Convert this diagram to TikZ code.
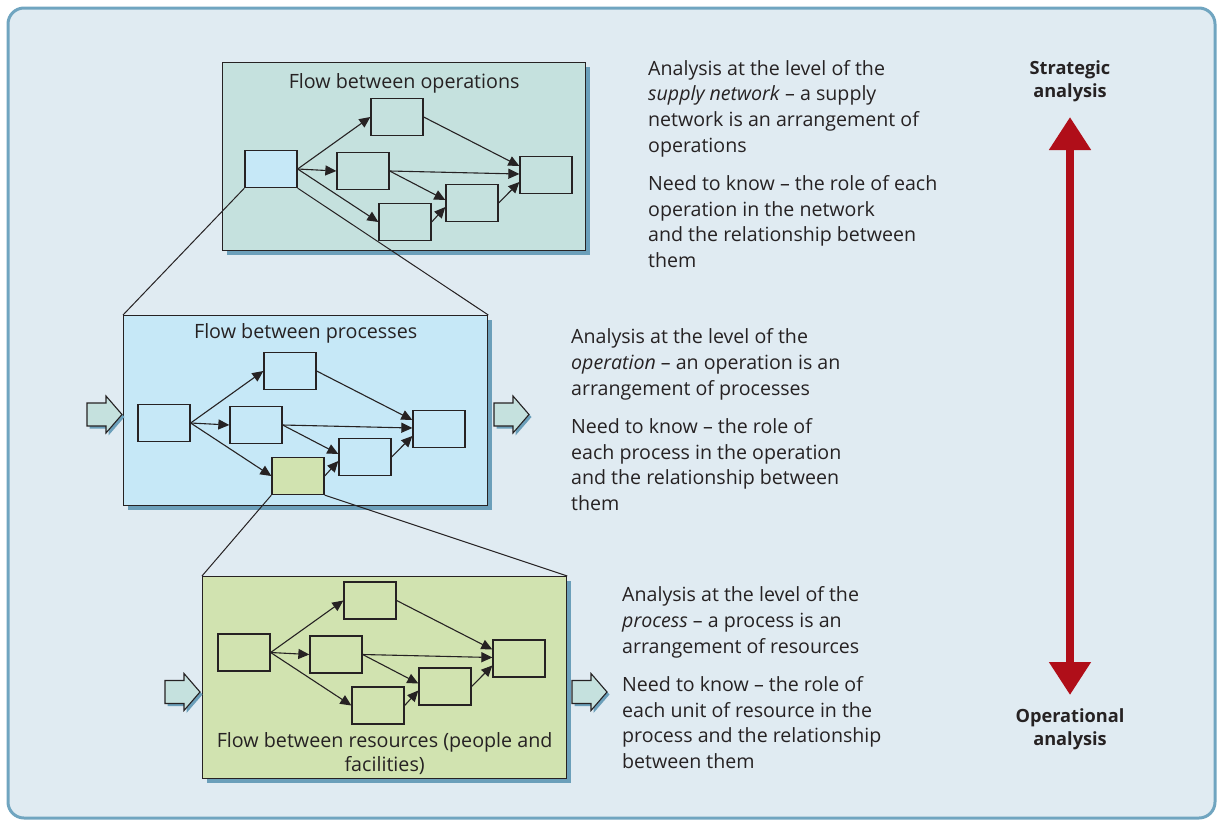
\documentclass[tikz,border=0pt]{standalone}
\usepackage{fontspec}
\setmainfont{Open Sans}
\usetikzlibrary{arrows.meta,shadows}

\definecolor{framefill}{HTML}{E0EBF2}
\definecolor{framedraw}{HTML}{70A5C0}
\definecolor{opsfill}{HTML}{C5E1DE}
\definecolor{procfill}{HTML}{C6E8F7}
\definecolor{resfill}{HTML}{D1E3B0}
\definecolor{shadowblue}{HTML}{6B9FBA}
\definecolor{ink}{HTML}{262223}
\definecolor{strategyred}{HTML}{B00E19}

\tikzset{
  unit/.style={draw=ink, line width=1.3pt, minimum width=52pt, minimum height=37pt, inner sep=0pt},
  flow/.style={-{Triangle[length=11pt,width=10pt]}, draw=ink, line width=1.1pt},
  panel/.style={draw=ink, line width=1.3pt, anchor=north west, inner sep=0pt,
    general shadow={fill=shadowblue, shadow xshift=4pt, shadow yshift=-4pt}},
  zoomline/.style={draw=ink, line width=1pt},
  blockarrow/.pic={
    \draw[ink, fill=opsfill, line width=1.1pt, line join=miter,
      general shadow={fill=shadowblue, shadow xshift=2.5pt, shadow yshift=-2.5pt}]
      (0,-11.5) -- (19,-11.5) -- (19,-18.5) -- (35,0) -- (19,18.5) -- (19,11.5) -- (0,11.5) -- cycle;
  },
  paneltitle/.style={font=\fontsize{19.7}{24}\selectfont, text=ink, inner sep=0pt, align=center, anchor=base},
  note/.style={font=\fontsize{19.6}{25.7}\selectfont, text=ink, inner sep=0pt, align=left, anchor=base west},
  level/.style={font=\fontsize{18.2}{23}\selectfont\bfseries, text=ink, inner sep=0pt, align=center, anchor=base},
  scopearrow/.style={line width=8pt, draw=strategyred,
    {Triangle[length=33pt,width=40pt]}-{Triangle[length=33pt,width=40pt]}}
}

% one network of six units: prefix, centre of first unit, fills
\newcommand\flownet[6]{%
  \node[unit, fill=#5] (#1in)   at (#2,#3) {};
  \node[unit, fill=#4] (#1up)   at ({#2+126},{#3-52}) {};
  \node[unit, fill=#4] (#1mid)  at ({#2+92},{#3+2}) {};
  \node[unit, fill=#6] (#1low)  at ({#2+134},{#3+53}) {};
  \node[unit, fill=#4] (#1join) at ({#2+201},{#3+34}) {};
  \node[unit, fill=#4] (#1out)  at ({#2+275},{#3+6}) {};
  \draw[flow] (#1in.east) -- (#1up.west);
  \draw[flow] (#1in.east) -- (#1mid.west);
  \draw[flow] (#1in.east) -- (#1low.west);
  \draw[flow] (#1up.east) -- ([yshift=9pt]#1out.west);
  \draw[flow] (#1mid.east) -- ([yshift=1pt]#1out.west);
  \draw[flow] (#1mid.east) -- ([yshift=3pt]#1join.west);
  \draw[flow] (#1low.east) -- ([yshift=-4pt]#1join.west);
  \draw[flow] (#1join.east) -- ([yshift=-7pt]#1out.west);
}

\begin{document}
\begin{tikzpicture}[x=1pt,y=-1pt]
  \useasboundingbox (0,0) rectangle (1219,820);
  \draw[framedraw, fill=framefill, line width=3pt, rounded corners=16pt] (8,8) rectangle (1215,818);

  % panels
  \node[panel, fill=opsfill, minimum width=363pt, minimum height=188pt] (opspanel) at (222,62) {};
  \node[panel, fill=procfill, minimum width=364pt, minimum height=190pt] (procpanel) at (123,315) {};
  \node[panel, fill=resfill, minimum width=364pt, minimum height=202pt] (respanel) at (202,576) {};

  \node[paneltitle] at ([yshift=-26pt]opspanel.north) {Flow between operations};
  \node[paneltitle] at ([yshift=-23.5pt]procpanel.north) {Flow between processes};
  \node[paneltitle] at ([yshift=-195pt]respanel.north) {Flow between resources (people and\\facilities)};

  % networks
  \flownet{ops}{271}{169}{opsfill}{procfill}{opsfill}
  \flownet{proc}{164}{423}{procfill}{procfill}{resfill}
  \flownet{res}{244}{652.5}{resfill}{resfill}{resfill}

  % zoom lines
  \draw[zoomline] (opsin.south west) -- (procpanel.north west);
  \draw[zoomline] (opsin.south east) -- (procpanel.north east);
  \draw[zoomline] (proclow.south west) -- (respanel.north west);
  \draw[zoomline] (proclow.south east) -- (respanel.north east);

  % inputs and outputs
  \pic (procinput)  at (87,414.5) {blockarrow};
  \pic (procoutput) at (494,414.5) {blockarrow};
  \pic (resinput)   at (165,692) {blockarrow};
  \pic (resoutput)  at (572,692) {blockarrow};

  % notes
  \node[note] (opsnote) at (648,267.5) {Analysis at the level of the\\\emph{supply network} – a supply\\network is an arrangement of\\operations\\[12.5pt]Need to know – the role of each\\operation in the network\\and the relationship between\\them};
  \node[note] (procnote) at (571,510.5) {Analysis at the level of the\\\emph{operation} – an operation is an\\arrangement of processes\\[12.5pt]Need to know – the role of\\each process in the operation\\and the relationship between\\them};
  \node[note] (resnote) at (622,768.5) {Analysis at the level of the\\\emph{process} – a process is an\\arrangement of resources\\[12.5pt]Need to know – the role of\\each unit of resource in the\\process and the relationship\\between them};

  % strategic to operational
  \node[level] (strategic) at (1070,97.5) {Strategic\\analysis};
  \node[level] (operational) at (1070,745.5) {Operational\\analysis};
  \coordinate (strategictip) at (1070,117);
  \coordinate (operationaltip) at (1070,695);
  \draw[scopearrow] (strategictip) -- (operationaltip);
\end{tikzpicture}
\end{document}
